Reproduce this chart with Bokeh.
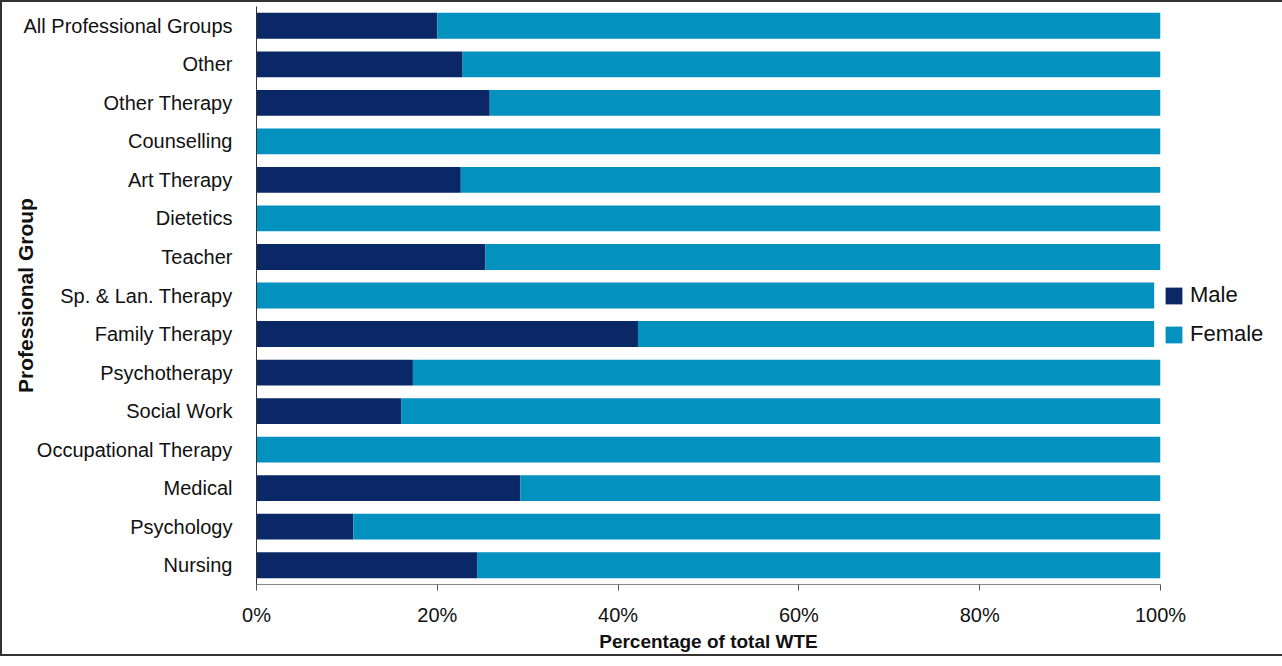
from bokeh.plotting import figure
from bokeh.layouts import column
from bokeh.models import (ColumnDataSource, FactorRange, Range1d, Legend, LegendItem,
                          PrintfTickFormatter, FixedTicker)
from bokeh.embed import file_html
from bokeh.resources import INLINE

groups = ["All Professional Groups", "Other", "Other Therapy", "Counselling", "Art Therapy",
          "Dietetics", "Teacher", "Sp. & Lan. Therapy", "Family Therapy", "Psychotherapy",
          "Social Work", "Occupational Therapy", "Medical", "Psychology", "Nursing"]
male = [20.0, 22.8, 25.8, 0.0, 22.6, 0.0, 25.3, 0.0, 42.2, 17.3, 16.0, 0.0, 29.2, 10.7, 24.4]
female = [80.0, 77.2, 74.2, 100.0, 77.4, 100.0, 74.7, 99.3, 57.1, 82.7, 84.0, 100.0, 70.8, 89.3, 75.6]
x_ticks = [0, 20, 40, 60, 80, 100]

MALE_C = "#0A2866"
FEMALE_C = "#0391C0"
FONT = "Liberation Sans"

src = ColumnDataSource(dict(group=groups, male=male, female=female))

p = figure(y_range=FactorRange(*list(reversed(groups))), x_range=Range1d(0, 100),
           frame_width=904, frame_height=578,
           min_border_left=254, min_border_right=104, min_border_top=4, min_border_bottom=64,
           output_backend="svg", toolbar_location=None)

rs = p.hbar_stack(["male", "female"], y="group", height=0.67, source=src,
                  fill_color=[MALE_C, FEMALE_C], line_color=None)

p.outline_line_color = None
p.xgrid.grid_line_color = None
p.ygrid.grid_line_color = None
p.background_fill_color = "white"
p.border_fill_color = "white"

# x axis
xa = p.xaxis[0]
xa.ticker = FixedTicker(ticks=x_ticks)
xa.formatter = PrintfTickFormatter(format="%d%%")
xa.axis_line_color = "#888888"
xa.major_tick_line_color = "#555555"
xa.major_tick_out = 6
xa.major_tick_in = 0
xa.minor_tick_line_color = None
xa.major_label_text_font = FONT
xa.major_label_text_font_size = "20px"
xa.major_label_text_color = "#111111"
xa.major_label_standoff = 13
xa.axis_label = "Percentage of total WTE"
xa.axis_label_text_font = FONT
xa.axis_label_text_font_size = "19px"
xa.axis_label_text_font_style = "bold"
xa.axis_label_text_color = "#111111"
xa.axis_label_standoff = 2

# y axis
ya = p.yaxis[0]
ya.axis_line_color = "#333333"
ya.major_tick_line_color = None
ya.minor_tick_line_color = None
ya.major_label_text_font = FONT
ya.major_label_text_font_size = "20px"
ya.major_label_text_color = "#111111"
ya.major_label_standoff = 18
ya.axis_label = "Professional Group"
ya.axis_label_text_font = FONT
ya.axis_label_text_font_size = "21px"
ya.axis_label_text_font_style = "bold"
ya.axis_label_text_color = "#111111"
ya.axis_label_standoff = -16

legend = Legend(items=[LegendItem(label="Male", renderers=[rs[0]]),
                       LegendItem(label="Female", renderers=[rs[1]])],
                location=(3, 237), orientation="vertical",
                glyph_width=21, glyph_height=21, label_standoff=6,
                label_text_font=FONT, label_text_font_size="22px", label_text_color="#111111",
                label_height=26, spacing=13, padding=0, margin=0,
                border_line_color=None, background_fill_alpha=0)
p.add_layout(legend, "right")

page = column(p, styles={"border": "2px solid #333333"})

open("out.html", "w").write(file_html(page, INLINE))
